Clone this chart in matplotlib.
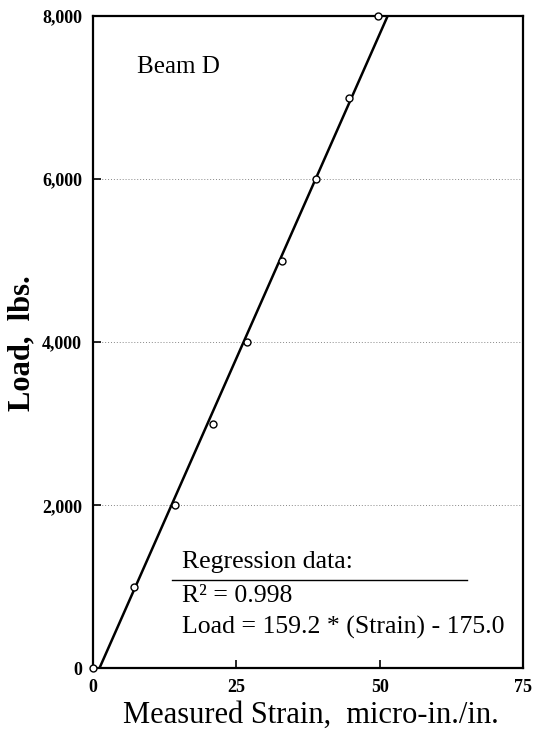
import numpy as np
import matplotlib
matplotlib.use('Agg')
from matplotlib import pyplot as plt

# measured data, Beam D
strain = [0, 7.2, 14.3, 20.9, 26.9, 33.0, 38.9, 44.7, 49.6]
load = [0, 1000, 2000, 3000, 4000, 5000, 6000, 7000, 8000]
slope = 159.2
intercept = -175.0
x_ticks = [0, 25, 50, 75]
y_ticks = [0, 2000, 4000, 6000, 8000]
y_labels = ['0', '2,000', '4,000', '6,000', '8,000']

plt.rcParams['font.family'] = ['Liberation Serif', 'DejaVu Serif']

fig = plt.figure(figsize=(5.35, 7.32), dpi=100)
ax = fig.add_axes([0.174, 0.087, 0.804, 0.891])

# regression line
xl = np.array([0, 75])
ax.plot(xl, slope * xl + intercept, color='black', lw=1.8, zorder=2)
ax.plot(strain, load, 'o', ms=5, mfc='white', mec='black', mew=1.0,
        zorder=3, clip_on=False)

ax.set_xlim(0, 75)
ax.set_ylim(0, 8000)
ax.set_xticks(x_ticks)
ax.set_yticks(y_ticks)
ax.set_yticklabels(y_labels)
for t in ax.get_xticklabels() + ax.get_yticklabels():
    t.set_fontweight('bold')
    t.set_fontsize(13)
ax.tick_params(direction='in', length=6, width=1.2, pad=8)
for s in ax.spines.values():
    s.set_linewidth(1.6)

for y in y_ticks[1:-1]:
    ax.axhline(y, color='#888888', lw=0.7, ls=(0, (1, 2)), zorder=1)

fig.text(22 / 535, 1 - 343 / 732, 'Load,  lbs.', fontsize=22, fontweight='bold',
         rotation=90, ha='center', va='center')
fig.text(311 / 535, 9 / 732, 'Measured Strain,  micro-in./in.', fontsize=22,
         ha='center', va='baseline')

ax.text(7.7, 7300, 'Beam D', fontsize=18, va='baseline')
ax.text(15.5, 1227, 'Regression data:', fontsize=18.5, va='baseline')
ax.plot([13.8, 65.2], [1080, 1080], color='black', lw=1.0, clip_on=False)
ax.text(15.5, 810, 'R² = 0.998', fontsize=18.5, va='baseline')
ax.text(15.5, 429, 'Load = 159.2 * (Strain) - 175.0', fontsize=18.5, va='baseline')

fig.savefig('out.png', dpi=100)
